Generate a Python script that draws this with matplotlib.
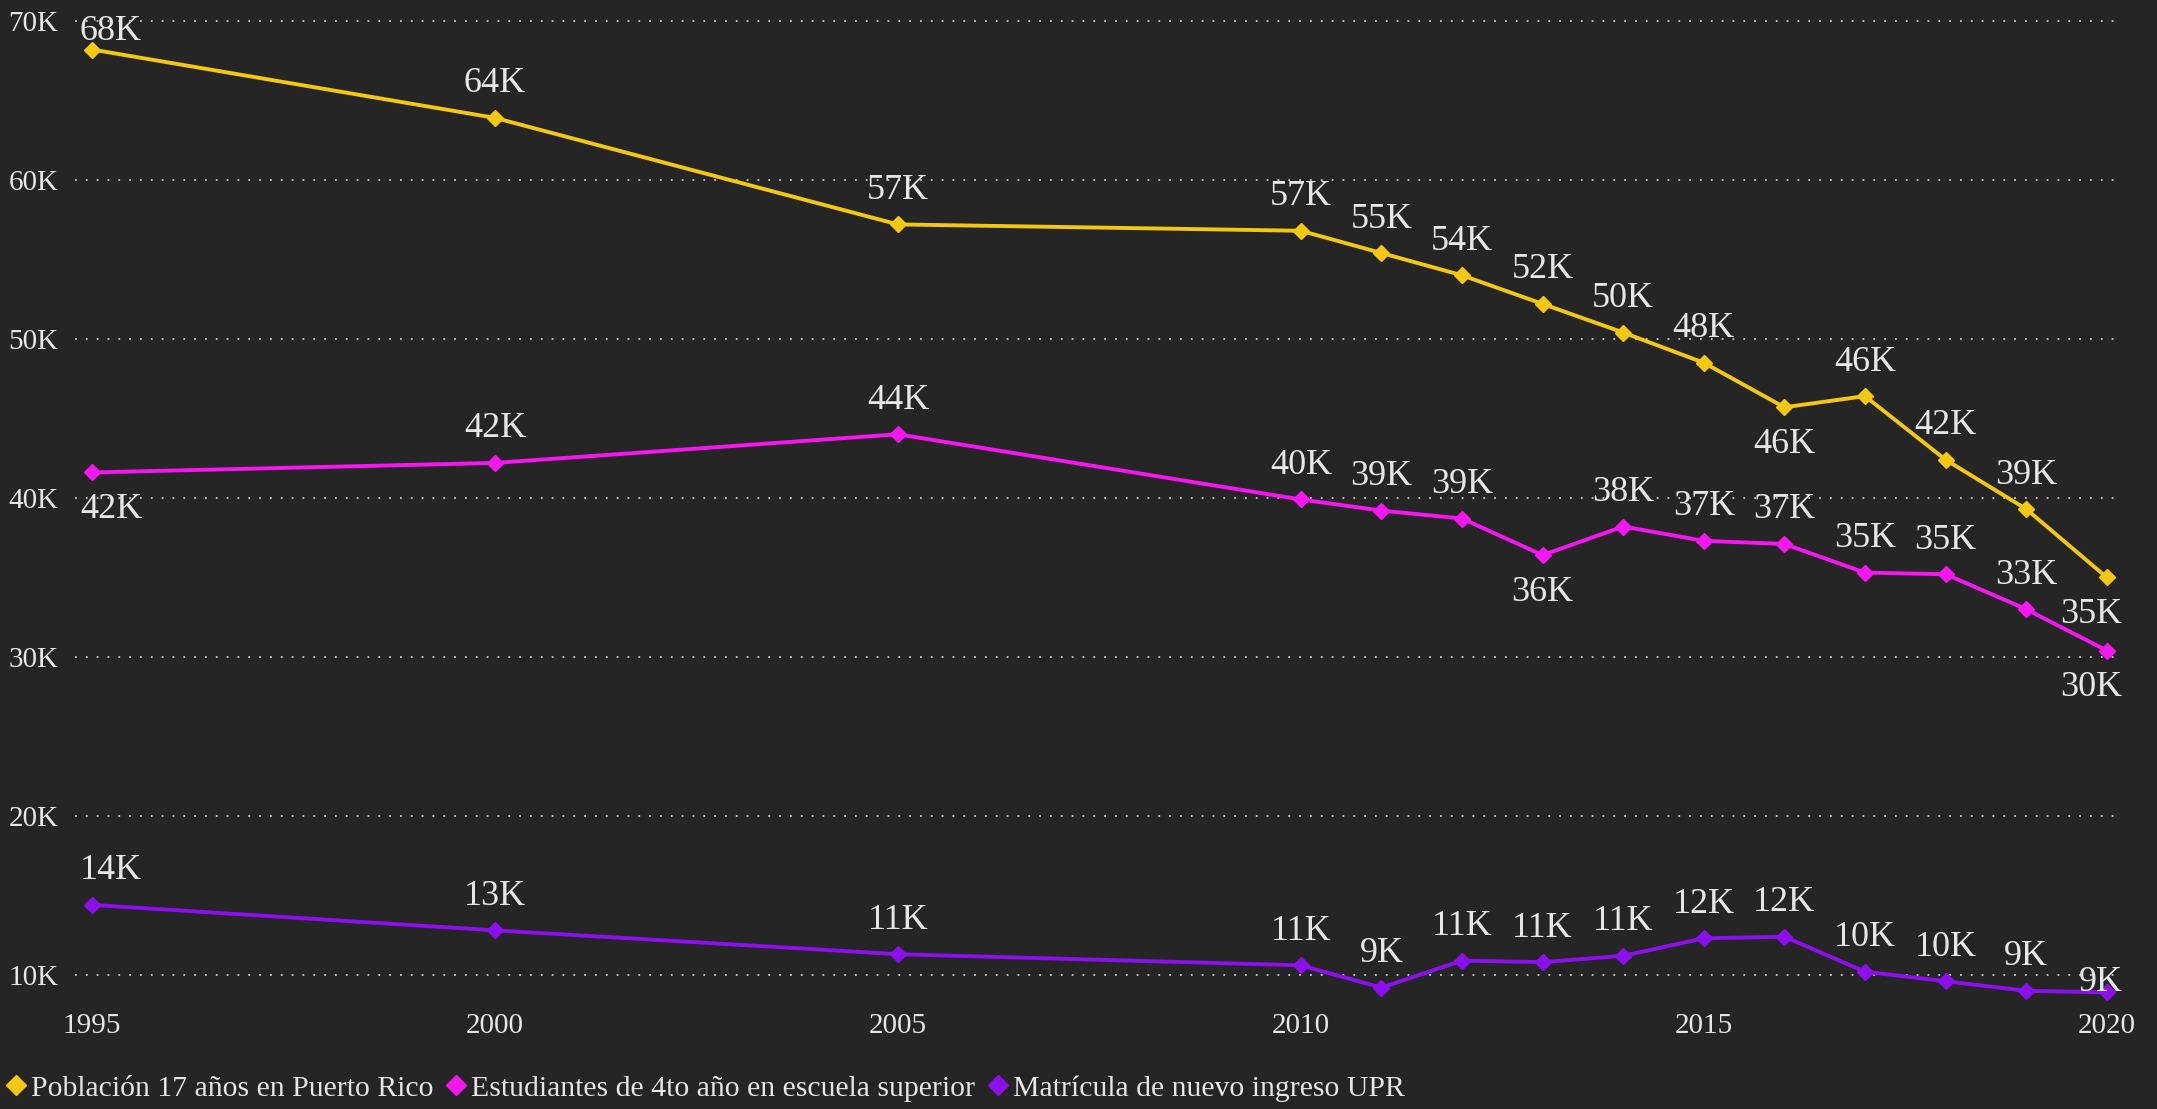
import numpy as np
import matplotlib.pyplot as plt
from matplotlib.lines import Line2D

# data (thousands)
years = [1995, 2000, 2005, 2010, 2011, 2012, 2013, 2014, 2015, 2016, 2017, 2018, 2019, 2020]
poblacion = [68.2, 63.9, 57.2, 56.8, 55.4, 54.0, 52.2, 50.4, 48.5, 45.7, 46.4, 42.4, 39.3, 35.0]
estudiantes = [41.6, 42.2, 44.0, 39.9, 39.2, 38.7, 36.4, 38.2, 37.3, 37.1, 35.3, 35.2, 33.0, 30.4]
matricula = [14.4, 12.8, 11.3, 10.6, 9.2, 10.9, 10.8, 11.2, 12.3, 12.4, 10.2, 9.6, 9.0, 8.9]

# label placement: 1 = above, -1 = below (fractions = squeezed in)
pos_poblacion = [1, 1, 1, 1, 1, 1, 1, 1, 1, -1, 1, 1, 1, -1]
pos_estudiantes = [-1, 1, 1, 1, 1, 1, -1, 1, 1, 1, 1, 1, 1, -1]
pos_matricula = [1] * 13 + [0.3]

series = [
    ('Población 17 años en Puerto Rico', poblacion, pos_poblacion, '#F2C811'),
    ('Estudiantes de 4to año en escuela superior', estudiantes, pos_estudiantes, '#F516F0'),
    ('Matrícula de nuevo ingreso UPR', matricula, pos_matricula, '#8C10EE'),
]

bg = '#252525'
txt = '#E6E6E6'
plt.rcParams['font.family'] = ['Liberation Serif', 'DejaVu Serif']

fig = plt.figure(figsize=(21.57, 11.09), dpi=100, facecolor=bg)
ax = fig.add_axes([0.0348, 0.098, 0.949, 0.8975], facecolor=bg)

ax.set_xlim(1994.79, 2020.19)
ax.set_ylim(8.4, 71.0)
ax.set_yticks([10, 20, 30, 40, 50, 60, 70])
ax.set_yticklabels([f'{v}K' for v in [10, 20, 30, 40, 50, 60, 70]])
ax.set_xticks([1995, 2000, 2005, 2010, 2015, 2020])
ax.tick_params(colors=txt, labelsize=21, length=0)
ax.tick_params(axis='y', pad=12)
ax.tick_params(axis='x', pad=9)
for s in ax.spines.values():
    s.set_visible(False)
ax.grid(axis='y', color='#C8C8C8', linestyle=(0, (1, 5)), linewidth=1.3)
ax.set_axisbelow(True)

handles = []
for name, vals, pos, col in series:
    ax.plot(years, vals, color=col, linewidth=2.8, marker='D', markersize=8.5, zorder=3)
    handles.append(Line2D([], [], color=col, marker='D', linestyle='none', markersize=10, label=name))

fig.canvas.draw()
top_px = fig.bbox.height - 32
for name, vals, pos, col in series:
    for i, (x, v, p) in enumerate(zip(years, vals, pos)):
        mx, my = ax.transData.transform((x, v))
        dy = 34 * p if p > 0 else 37 * p
        if my + dy > top_px:
            dy = top_px - my
        dx, ha = 0, 'center'
        if i == 0:
            dx, ha = -12, 'left'
        elif i == len(years) - 1:
            dx, ha = 16, 'right'
        ax.annotate(f'{round(v):.0f}K', (x, v), xytext=(dx, dy), textcoords='offset pixels',
                    ha=ha, va='center', color=txt, fontsize=26, zorder=4)

fig.legend(handles=handles, loc='lower left', bbox_to_anchor=(-0.006, -0.012), ncol=3,
           frameon=False, fontsize=21.4, labelcolor=txt, handlelength=0.55, handletextpad=0.22,
           columnspacing=0.5, borderpad=0.2)

fig.savefig('out.png', dpi=100, facecolor=bg)
